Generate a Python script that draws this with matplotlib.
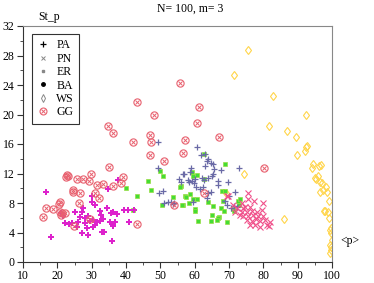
import matplotlib
matplotlib.use("Agg")
import matplotlib.pyplot as plt
from matplotlib.lines import Line2D
from matplotlib.ticker import MultipleLocator

# PA: blue plus
pa_x = [49.3, 60.7, 61.8, 63.0, 63.9, 63.6, 64.8, 65.3, 63.0, 49.3, 58.9, 65.6, 67.7, 72.9,
        56.6, 58.6, 65.1, 55.4, 58.1, 60.1, 62.1, 63.9, 62.7, 56.0, 59.2, 59.8, 66.8, 69.7,
        60.4, 66.8, 61.6, 62.4, 50.8, 49.6, 63.9, 64.8, 71.8, 52.2, 53.1, 54.0, 51.1, 59.5,
        63.6, 70.0, 68.8, 69.4, 53.7, 70.6, 71.5, 72.3, 56.9, 65.3, 58.4]
pa_y = [16.3, 15.6, 14.5, 14.6, 14.0, 13.7, 13.4, 13.3, 13.0, 12.7, 12.7, 12.6, 12.5, 12.7,
        11.9, 12.2, 11.7, 11.3, 11.1, 11.3, 11.4, 11.4, 11.1, 10.8, 11.0, 10.7, 11.0, 10.8,
        10.2, 10.4, 9.9, 10.2, 9.6, 9.3, 9.4, 9.5, 9.5, 8.2, 8.1, 8.0, 8.0, 8.1,
        8.7, 8.9, 8.3, 7.7, 7.9, 7.3, 7.6, 7.5, 12.0, 12.0, 10.9]

# PN: pink x
pn_x = [75.5, 79.9, 69.7, 71.2, 73.8, 75.5, 77.3, 74.7, 76.1, 73.8, 75.2, 76.7, 78.2, 74.1,
        75.5, 77.0, 78.5, 79.9, 75.2, 76.7, 77.9, 79.0, 80.5, 76.1, 77.6, 79.0, 81.1, 81.7,
        81.9, 73.2, 72.3, 71.8, 79.6, 74.1, 69.4]
pn_y = [9.3, 8.0, 9.0, 7.7, 8.0, 8.5, 8.3, 7.5, 7.5, 6.8, 6.8, 6.9, 6.8, 6.2,
        6.2, 6.4, 6.2, 6.2, 5.7, 5.6, 5.8, 5.6, 5.7, 5.0, 5.0, 4.7, 5.0, 4.9,
        5.4, 6.4, 7.3, 6.8, 7.0, 7.3, 8.9]

# ER: green
er_x = [40.0, 43.2, 46.4, 47.3, 49.9, 50.8, 50.5, 53.7, 56.0, 57.2, 56.6, 42.0, 59.2, 59.5,
        60.7, 62.7, 68.8, 62.7, 58.6, 58.4, 59.5, 60.7, 57.5, 56.3, 60.1, 60.1, 61.0, 63.9,
        65.3, 65.1, 64.8, 67.1, 67.7, 68.2, 68.5, 69.4, 71.2, 71.5, 72.6, 72.9, 73.2, 66.8,
        66.5, 68.0, 68.8, 55.7]
er_y = [10.0, 9.0, 11.0, 9.8, 12.3, 11.6, 7.7, 8.8, 10.3, 8.9, 7.7, 7.0, 12.2, 11.7,
        11.8, 14.6, 13.3, 11.3, 9.2, 8.0, 8.5, 8.5, 8.8, 7.7, 7.2, 6.9, 5.6, 8.1,
        7.6, 6.4, 5.6, 6.1, 7.3, 8.3, 6.9, 5.4, 7.2, 6.9, 8.3, 7.7, 8.5, 6.0,
        5.7, 9.6, 9.6, 10.2]

# BA: magenta filled
ba_x = [16.7, 18.1, 21.7, 22.2, 23.4, 25.1, 26.0, 27.2, 26.6, 27.2, 28.1, 28.6, 28.9, 29.5,
        30.1, 30.1, 31.0, 30.4, 31.0, 31.5, 32.4, 32.7, 33.0, 33.6, 33.3, 32.4, 34.5, 34.8,
        35.6, 36.2, 35.3, 35.9, 36.2, 36.8, 35.9, 37.4, 37.7, 39.4, 40.6, 40.9, 42.3, 27.5,
        28.9, 28.1, 24.3, 25.7, 30.4, 21.0]
ba_y = [9.5, 3.4, 6.2, 5.3, 5.2, 6.8, 5.4, 6.8, 6.1, 4.0, 6.0, 4.6, 3.7, 5.6,
        8.1, 9.0, 7.7, 5.7, 5.0, 5.4, 6.9, 6.4, 4.1, 4.1, 5.8, 5.6, 7.3, 9.9,
        6.6, 6.8, 5.4, 5.1, 4.9, 5.4, 2.8, 6.5, 11.1, 7.0, 7.0, 5.4, 7.0, 7.3,
        6.2, 5.3, 5.3, 4.7, 4.7, 6.6]

# WS: yellow open diamond
ws_x = [75.5, 71.5, 82.8, 92.4, 81.7, 86.9, 89.5, 92.4, 89.8, 92.1, 92.7, 94.5, 94.2, 96.2,
        96.8, 95.3, 95.9, 96.5, 97.1, 96.5, 98.3, 98.6, 99.1, 98.0, 98.8, 99.1, 86.0, 99.7,
        99.7, 99.4, 99.7, 100.0, 74.4, 95.0, 97.4, 97.7, 99.4, 99.4, 99.7, 69.1]
ws_y = [28.7, 25.4, 22.5, 20.0, 18.4, 17.8, 16.9, 15.6, 14.5, 15.0, 15.7, 13.3, 12.7, 13.0,
        13.1, 11.3, 11.6, 10.9, 10.7, 9.5, 10.2, 9.5, 8.3, 6.9, 6.8, 6.0, 5.8, 4.6,
        3.9, 2.3, 1.6, 3.0, 12.0, 11.4, 9.8, 6.9, 4.3, 1.2, 2.0, 9.3]

# GG: circled x
gg_x = [55.7, 43.2, 48.2, 34.8, 36.2, 42.0, 47.0, 47.3, 57.2, 61.3, 60.7, 67.1, 47.0, 51.1,
        56.6, 35.0, 29.8, 22.7, 22.4, 23.0, 25.8, 27.5, 29.3, 31.5, 33.3, 36.2, 38.5, 39.1,
        24.6, 24.6, 26.6, 31.0, 32.2, 26.3, 20.8, 20.5, 16.7, 18.7, 20.8, 21.3, 21.0, 22.2,
        15.8, 24.9, 29.5, 43.2, 54.0, 80.2, 62.7]
gg_y = [24.3, 21.7, 20.0, 18.5, 17.5, 16.3, 17.2, 16.3, 16.6, 21.0, 18.9, 16.9, 14.5, 13.7,
        14.8, 12.9, 12.0, 11.8, 11.5, 11.7, 11.3, 11.3, 11.0, 10.5, 10.6, 10.3, 10.7, 11.5,
        9.8, 9.5, 9.3, 9.3, 8.7, 8.0, 8.1, 7.9, 7.3, 7.2, 6.8, 6.7, 6.4, 6.6,
        6.1, 4.9, 5.8, 5.1, 7.7, 12.7, 9.3]

plt.rcParams['font.family'] = ['Liberation Serif', 'DejaVu Serif']

fig = plt.figure(figsize=(3.74, 2.83), dpi=100)
ax = fig.add_axes([23 / 374, 1 - 262 / 283, 309 / 374, 236 / 283])

gg_col = '#e8606e'
ax.plot(ws_x, ws_y, 'd', ms=4.5, mfc='none', mec='#ffd54a', mew=0.8, ls='none')
ax.plot(er_x, er_y, 's', ms=2.4, color='#44dd33', mec='#99dd44', mew=0.5, ls='none')
ax.plot(pa_x, pa_y, '+', ms=5, color='#6a6aa6', mew=0.9, ls='none')
ax.plot(pn_x, pn_y, 'x', ms=4, color='#f0508a', mew=0.8, ls='none')
ax.plot(ba_x, ba_y, 'P', ms=4, color='#dd22cc', mew=0, ls='none')
ax.plot(gg_x, gg_y, 'o', ms=5.2, mfc='none', mec=gg_col, mew=0.8, ls='none')
ax.plot(gg_x, gg_y, 'x', ms=2.2, color=gg_col, mew=0.7, ls='none')

ax.set_xlim(10, 100)
ax.set_ylim(0, 32)
ax.xaxis.set_major_locator(MultipleLocator(10))
ax.xaxis.set_minor_locator(MultipleLocator(5))
ax.yaxis.set_major_locator(MultipleLocator(4))
ax.yaxis.set_minor_locator(MultipleLocator(2))
ax.tick_params(labelsize=8.5, length=4, width=0.8, color='#333333', pad=2)
ax.tick_params(which='minor', length=2, width=0.6, color='#333333')

for s in ['top', 'right']:
    ax.spines[s].set_color('#888888')
for s in ['left', 'bottom']:
    ax.spines[s].set_color('#333333')

fig.text(190 / 374, 1 - 9 / 283, 'N= 100, m= 3', ha='center', va='center', fontsize=8.5)
fig.text(38 / 374, 1 - 17 / 283, 'St_p', ha='left', va='center', fontsize=8.5)
fig.text(350 / 374, 1 - 241 / 283, '<p>', ha='center', va='center', fontsize=8.5)

handles = [
    Line2D([], [], marker='+', ls='none', color='black', ms=4, mew=0.9),
    Line2D([], [], marker='x', ls='none', color='#888888', ms=3, mew=0.7),
    Line2D([], [], marker='s', ls='none', color='#888888', ms=1.8),
    Line2D([], [], marker='o', ls='none', color='black', ms=2.5),
    Line2D([], [], marker='d', ls='none', mfc='none', mec='#888888', ms=4, mew=0.7),
    (Line2D([], [], marker='o', ls='none', mfc='none', mec=gg_col, ms=5, mew=0.8),
     Line2D([], [], marker='x', ls='none', color=gg_col, ms=2.2, mew=0.7)),
]
labels = ['PA', 'PN', 'ER', 'BA', 'WS', 'GG']
leg = ax.legend(handles, labels, loc='upper left', bbox_to_anchor=(0.029, 0.966),
                borderaxespad=0, fontsize=8.5, frameon=True, fancybox=False,
                borderpad=0.45, labelspacing=0.12, handlelength=0.9, handletextpad=0.7)
leg.get_frame().set_edgecolor('black')
leg.get_frame().set_linewidth(0.8)

fig.savefig('out.png', dpi=100)
